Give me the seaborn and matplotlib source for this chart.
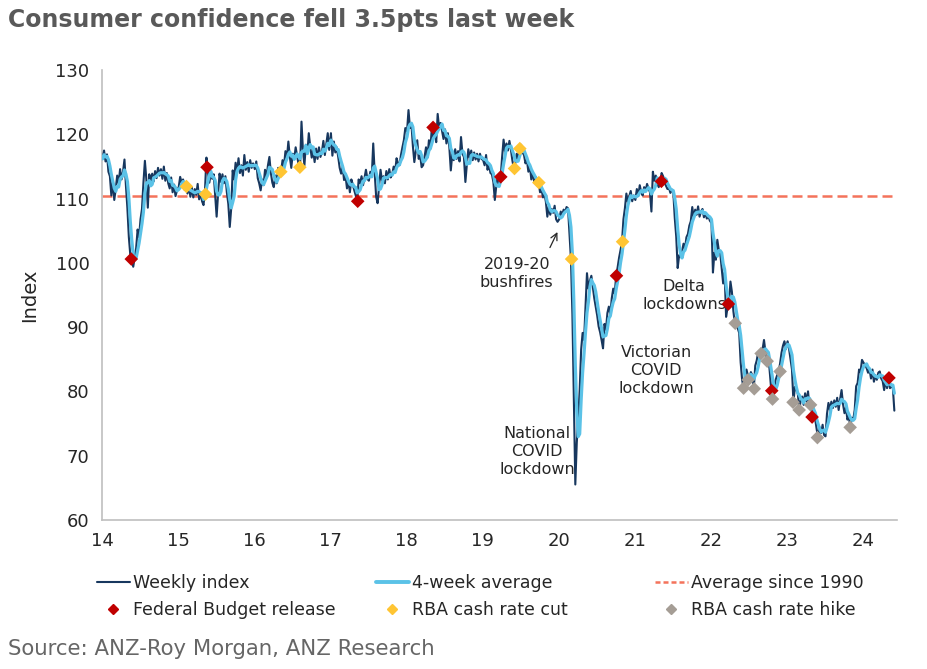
import numpy as np
import pandas as pd
import matplotlib
matplotlib.use("Agg")
import matplotlib.pyplot as plt
from matplotlib.lines import Line2D
import seaborn as sns

# ---------------- data ----------------
weekly_2014 = [116.2, 117.5, 115.8, 116.9, 114.2, 113.5,
               110.5, 112.8, 109.8, 111.5, 113.6,
               112.4, 114.6, 113.0, 114.2, 116.1,
               112.0, 108.5, 104.0, 101.2, 100.5, 99.4,
               100.8, 102.3, 105.2, 104.0, 106.8, 108.4,
               112.5, 115.9, 113.0, 108.6, 113.8, 112.6,
               113.9, 112.7, 114.3, 113.2, 114.8, 113.6,
               114.6, 113.1, 115.0, 112.8, 114.0, 112.4,
               111.6, 113.3, 111.0, 112.2, 110.4, 111.3]
weekly_2015 = [111.8, 113.4, 112.5, 113.0, 111.4, 112.2,
               110.8, 112.0, 110.3, 111.7, 110.2, 111.5,
               110.6, 112.3, 109.9, 111.0, 109.6, 109.0,
               111.2, 116.4, 114.2, 112.5, 114.0, 113.1,
               113.8, 110.5, 107.2, 110.8, 113.9, 112.6,
               113.8, 112.4, 113.5, 111.0, 109.2, 105.6,
               108.5, 114.4, 113.0, 115.6, 114.1, 116.3,
               114.0, 115.2, 113.6, 116.8, 114.5, 115.7,
               114.2, 116.0, 114.8, 115.5]
weekly_2016 = [114.6, 115.8, 113.2, 112.4, 111.3, 113.0,
               112.1, 114.5, 113.3, 115.2, 116.5, 114.0,
               112.5, 111.8, 113.6, 112.4, 114.8, 113.5,
               114.2, 116.0, 115.1, 117.4, 116.3, 118.9,
               116.5, 114.8, 117.0, 116.2, 118.0, 116.7,
               115.3, 114.9, 122.0, 117.5, 115.2, 118.4,
               117.0, 120.2, 118.1, 116.4, 117.5, 115.7,
               117.8, 116.2, 118.0, 116.5, 117.3, 119.0,
               116.8, 118.5, 120.2, 117.6]
weekly_2017 = [120.2, 116.7, 118.9, 117.2, 118.0, 116.5,
               114.8, 113.9, 115.0, 112.9, 113.6, 111.6,
               112.8, 111.0, 113.0, 112.2, 111.3, 110.5,
               109.6, 113.0, 112.4, 113.5, 112.1, 113.2,
               114.5, 113.1, 112.8, 114.2, 113.5, 118.6,
               114.0, 110.3, 109.3, 112.0, 114.5, 112.8,
               113.5, 112.4, 114.3, 113.0, 114.6, 113.3,
               113.8, 115.0, 114.2, 116.3, 115.5, 115.2,
               116.8, 118.0, 119.1, 121.0]
weekly_2018 = [120.5, 123.8, 121.0, 121.7, 118.2, 115.7,
               117.4, 119.1, 116.2, 116.7, 114.9, 115.2,
               116.5, 118.0, 116.4, 119.1, 117.8, 121.1,
               119.5, 120.6, 118.8, 123.2, 121.0, 121.8,
               120.5, 119.3, 120.8, 118.6, 120.2, 118.0,
               114.4, 117.0, 116.0, 117.7, 116.2, 117.4,
               115.8, 119.6, 117.0, 116.5, 112.6, 115.3,
               117.7, 116.4, 117.5, 116.0, 117.2, 116.1,
               117.0, 115.8, 117.0, 116.2]
weekly_2019 = [116.0, 115.2, 116.8, 114.5, 115.3, 114.0,
               113.8, 112.6, 109.8, 112.0, 113.5, 112.4,
               113.4, 116.5, 119.2, 117.3, 118.6, 117.5,
               119.0, 117.7, 116.0, 114.7, 115.5, 117.0,
               116.2, 117.8, 118.4, 117.2, 116.8, 115.5,
               116.0, 114.2, 115.2, 113.0, 114.1, 112.6,
               113.4, 112.1, 112.5, 111.0, 111.5, 110.2,
               110.8, 109.5, 107.2, 108.8, 107.5, 108.4,
               107.8, 108.9, 106.8, 106.4]
weekly_2020 = [106.8, 108.0, 107.5, 108.3, 107.9, 108.7,
               108.5, 104.5, 100.6, 92.0, 78.5, 65.5,
               72.0, 75.8, 80.2, 86.5, 89.1, 88.0,
               93.4, 98.4, 96.0, 97.2, 98.0, 96.3,
               94.5, 93.2, 91.8, 90.1, 89.2, 88.0,
               86.7, 90.5, 89.6, 92.2, 93.2, 92.0,
               94.5, 96.0, 95.2, 98.0, 99.3, 100.8,
               102.0, 103.3, 106.8, 108.5, 110.8, 109.5,
               110.4, 111.2, 109.6, 110.5]
weekly_2021 = [109.8, 111.5, 110.4, 112.1, 111.0, 110.5,
               111.8, 111.2, 112.3, 111.6, 111.0, 108.0,
               114.2, 112.8, 113.6, 112.4, 111.8, 112.7,
               114.0, 113.5, 112.6, 112.0, 111.5, 111.7,
               110.9, 111.4, 111.0, 107.0, 104.1, 99.2,
               101.2, 100.9, 101.8, 103.0, 102.2, 104.0,
               104.5, 105.8, 106.5, 108.7, 107.0, 108.3,
               107.5, 108.8, 107.2, 108.0, 108.4, 107.1,
               107.8, 106.9, 107.4, 106.6]
weekly_2022 = [106.2, 98.5, 101.6, 100.5, 103.6, 102.0,
               101.5, 99.2, 96.8, 98.5, 91.6, 93.0,
               93.6, 97.1, 95.5, 92.5, 90.6, 91.5,
               89.8, 89.1, 84.5, 81.8, 80.5, 82.5,
               83.4, 82.4, 81.8, 83.0, 82.5, 80.4,
               84.0, 84.8, 86.1, 85.5, 85.9, 86.5,
               88.0, 86.1, 84.7, 85.5, 82.9, 80.1,
               78.8, 80.5, 81.8, 82.5, 83.1, 84.3,
               86.0, 87.1, 87.8, 86.6]
weekly_2023 = [87.8, 86.6, 85.0, 83.4, 78.3, 80.7, 80.2, 79.7, 77.1, 78.6,
               79.2, 77.9, 79.7, 78.4, 80.0, 77.6, 77.9, 76.0, 77.1, 75.5,
               74.0, 72.8, 74.4, 73.5, 74.8, 73.2, 73.0, 76.5, 78.2, 77.1,
               78.4, 77.4, 78.6, 77.6, 79.0, 77.1, 78.8, 80.2, 78.0, 76.6,
               77.5, 75.6, 76.1, 74.4, 75.9, 75.6, 77.1, 80.8, 81.3, 83.4,
               83.0, 84.9]
weekly_2024 = [84.4, 84.2, 83.6, 82.9, 83.4, 82.0, 83.4, 81.5, 82.5, 81.8,
               82.9, 83.1, 82.0, 81.6, 80.2, 81.8, 80.5, 82.1, 80.5, 80.8,
               80.5, 77.0]

weekly_by_year = {2014: weekly_2014, 2015: weekly_2015, 2016: weekly_2016,
                  2017: weekly_2017, 2018: weekly_2018, 2019: weekly_2019,
                  2020: weekly_2020, 2021: weekly_2021, 2022: weekly_2022,
                  2023: weekly_2023, 2024: weekly_2024}

budget_x = [2014.385, 2015.38, 2017.36, 2018.35, 2019.24, 2020.76, 2021.35,
            2022.23, 2022.80, 2023.33, 2024.34]
budget_y = [100.6, 114.9, 109.6, 121.1, 113.4, 98.0, 112.7, 93.6, 80.1, 76.0, 82.1]

cut_x = [2015.11, 2015.36, 2016.35, 2016.60, 2019.42, 2019.49, 2019.74, 2020.17, 2020.84]
cut_y = [111.9, 110.7, 114.2, 114.9, 114.7, 117.8, 112.5, 100.6, 103.3]

hike_x = [2022.32, 2022.43, 2022.49, 2022.57, 2022.66, 2022.74, 2022.81, 2022.91,
          2023.08, 2023.16, 2023.31, 2023.40, 2023.83]
hike_y = [90.6, 80.5, 81.8, 80.4, 85.9, 84.7, 78.8, 83.1, 78.3, 77.1, 77.9, 72.8, 74.4]

avg_since_1990 = 110.4

year_ticks = list(range(2014, 2025))
year_labels = [str(y % 100) for y in year_ticks]
y_ticks = [60, 70, 80, 90, 100, 110, 120, 130]

# ---------------- build frame ----------------
frames = []
for yr, vals in weekly_by_year.items():
    xpos = yr + (np.arange(len(vals)) * 7 + 3) / 365.25
    frames.append(pd.DataFrame({"x": xpos, "weekly": vals}))
df = pd.concat(frames, ignore_index=True)
df["avg4"] = df["weekly"].rolling(4, min_periods=1).mean()

# ---------------- style ----------------
sns.set_theme(style="white")
plt.rcParams["font.family"] = ["DejaVu Sans"]

C_WEEK = "#17375E"
C_AVG = "#5BC2E7"
C_LT = "#F4735B"
C_BUD = "#C00000"
C_CUT = "#FFC533"
C_HIKE = "#A59D95"
C_TXT = "#262626"

fig = plt.figure(figsize=(9.27, 6.69), dpi=100)
ax = fig.add_axes([0.110, 0.223, 0.858, 0.672])

ax.axhline(avg_since_1990, color=C_LT, lw=1.8, dashes=(4, 2), zorder=2)
sns.lineplot(data=df, x="x", y="weekly", ax=ax, color=C_WEEK, lw=1.5, zorder=3)
sns.lineplot(data=df, x="x", y="avg4", ax=ax, color=C_AVG, lw=2.3, zorder=4)

sns.scatterplot(x=budget_x, y=budget_y, ax=ax, marker="D", s=48, color=C_BUD,
                edgecolor="none", zorder=6)
sns.scatterplot(x=cut_x, y=cut_y, ax=ax, marker="D", s=48, color=C_CUT,
                edgecolor="none", zorder=6)
sns.scatterplot(x=hike_x, y=hike_y, ax=ax, marker="D", s=48, color=C_HIKE,
                edgecolor="none", zorder=6)

ax.set_xlim(2014, 2024.45)
ax.set_ylim(60, 130)
ax.set_xticks(year_ticks)
ax.set_xticklabels(year_labels)
ax.set_yticks(y_ticks)
ax.set_xlabel("")
ax.set_ylabel("Index", fontsize=14, color=C_TXT, labelpad=12)

for s in ["top", "right"]:
    ax.spines[s].set_visible(False)
for s in ["left", "bottom"]:
    ax.spines[s].set_color("#BFBFBF")
    ax.spines[s].set_linewidth(1.2)
ax.tick_params(axis="both", direction="out", length=4, width=1, color="#BFBFBF",
               labelsize=13, labelcolor=C_TXT, pad=5)
ax.grid(False)

# annotations
ann_kw = dict(ha="center", va="center", fontsize=11.5, color=C_TXT, linespacing=1.25)
ax.text(2019.45, 98.4, "2019-20\nbushfires", **ann_kw)
ax.text(2019.72, 70.6, "National\nCOVID\nlockdown", **ann_kw)
ax.text(2021.28, 83.2, "Victorian\nCOVID\nlockdown", **ann_kw)
ax.text(2021.65, 95.0, "Delta\nlockdowns", **ann_kw)
ax.annotate("", xy=(2020.0, 105.2), xytext=(2019.87, 102.0),
            arrowprops=dict(arrowstyle="->", color=C_TXT, lw=0.9))

# title & source
fig.text(8 / 927, 1 - 20 / 669, "Consumer confidence fell 3.5pts last week",
         fontsize=17, fontweight="bold", color="#595959", ha="left", va="center")
fig.text(8 / 927, 1 - 649 / 669, "Source: ANZ-Roy Morgan, ANZ Research",
         fontsize=15.3, color="#666666", ha="left", va="center")

# legend: three columns
leg_kw = dict(loc="upper left", frameon=False, fontsize=12.5, handlelength=1.9,
              handletextpad=0.2, borderpad=0, borderaxespad=0, labelspacing=0.5,
              numpoints=1)
col1 = [Line2D([], [], color=C_WEEK, lw=1.5),
        Line2D([], [], marker="D", ls="none", color=C_BUD, markersize=5.5)]
col2 = [Line2D([], [], color=C_AVG, lw=2.8),
        Line2D([], [], marker="D", ls="none", color=C_CUT, markersize=5.5)]
col3 = [Line2D([], [], color=C_LT, lw=1.8, dashes=(2, 1.2)),
        Line2D([], [], marker="D", ls="none", color=C_HIKE, markersize=5.5)]
top = 1 - 574 / 669
for handles, labels, x0 in [
    (col1, ["Weekly index", "Federal Budget release"], 97 / 927),
    (col2, ["4-week average", "RBA cash rate cut"], 376 / 927),
    (col3, ["Average since 1990", "RBA cash rate hike"], 655 / 927),
]:
    lg = fig.legend(handles=handles, labels=labels, bbox_to_anchor=(x0, top), **leg_kw)
    for t in lg.get_texts():
        t.set_color(C_TXT)

fig.savefig("out.png", dpi=100)
